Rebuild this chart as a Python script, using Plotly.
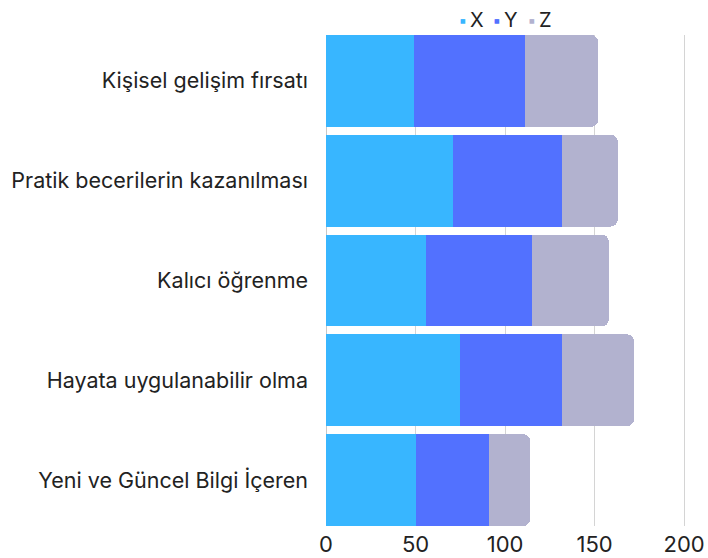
import plotly.graph_objects as go

categories = ["Kişisel gelişim fırsatı", "Pratik becerilerin kazanılması", "Kalıcı öğrenme",
              "Hayata uygulanabilir olma", "Yeni ve Güncel Bilgi İçeren"]
x_vals = [49, 71, 56, 75, 50]
y_vals = [62, 61, 59, 57, 41]
z_vals = [41, 31, 43, 40, 23]
series_names = ["X", "Y", "Z"]
colors = ["#38b6ff", "#5271ff", "#b2b2cf"]
tick_vals = [0, 50, 100, 150, 200]

FONT = "Inter"
TEXT = "#222222"
W, H = 708, 558
ML, MR, MT, MB = 326, 6, 35, 32

fig = go.Figure()
for name, vals, col in zip(series_names, [x_vals, y_vals, z_vals], colors):
    fig.add_trace(go.Bar(y=categories, x=vals, orientation="h", name=name,
                         marker=dict(color=col, line=dict(width=0)), showlegend=False))

# compact legend (small square + label) drawn as text above the plot
pw = W - ML - MR
def px_to_paper(px):
    return (px - ML) / pw
leg_sq_x = [462.5, 497, 532]
leg_tx_x = [468, 502, 537]
leg_y = (H - 20 - MB) / (H - MT - MB)
for name, col, sx, tx in zip(series_names, colors, leg_sq_x, leg_tx_x):
    fig.add_annotation(text="■", x=px_to_paper(sx), y=leg_y,
                       xref="paper", yref="paper", xanchor="center", yanchor="middle",
                       showarrow=False, font=dict(size=6, color=col, family="DejaVu Sans"))
    fig.add_annotation(text=name, x=px_to_paper(tx), y=leg_y,
                       xref="paper", yref="paper", xanchor="left", yanchor="middle",
                       showarrow=False, font=dict(size=20, color=TEXT, family=FONT))

fig.update_layout(
    width=W, height=H,
    margin=dict(l=ML, r=MR, t=MT, b=MB, autoexpand=False),
    barmode="stack", bargap=0.08, barcornerradius=7,
    plot_bgcolor="white", paper_bgcolor="white",
    font=dict(family=FONT, size=21, color=TEXT),
    showlegend=False,
)
fig.update_xaxes(range=[0, 210], tickvals=tick_vals, showgrid=True, gridcolor="#d4d4d4",
                 gridwidth=1, zeroline=True, zerolinecolor="#c8c8c8", zerolinewidth=1,
                 showline=False, ticks="", tickfont=dict(size=22), ticklabelstandoff=3)
fig.update_yaxes(categoryorder="array", categoryarray=categories, range=[4.46, -0.46],
                 showgrid=False, ticks="", ticklabelstandoff=17, tickfont=dict(size=21.5))

fig.write_html("out.html", config={"displayModeBar": False},
               post_script="document.body.style.margin='0px';")
